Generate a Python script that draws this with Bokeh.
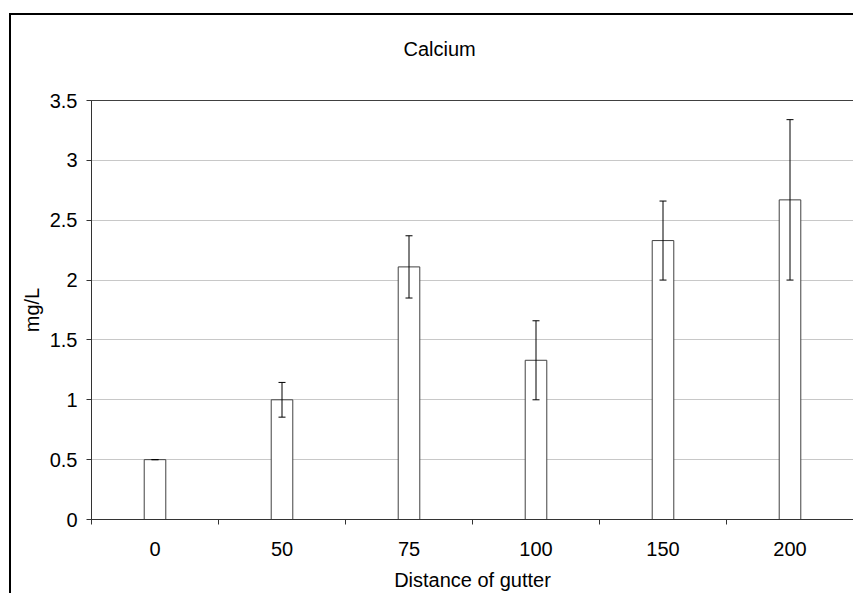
import numpy as np
from bokeh.plotting import figure
from bokeh.models import ColumnDataSource, Whisker, TeeHead, FixedTicker, NumeralTickFormatter, Title
from bokeh.embed import file_html
from bokeh.resources import INLINE

# ---- data ----
categories = ["0", "50", "75", "100", "150", "200"]
values = [0.5, 1.0, 2.11, 1.33, 2.33, 2.67]
errors = [0.0, 0.145, 0.26, 0.33, 0.33, 0.67]
y_ticks = [0, 0.5, 1, 1.5, 2, 2.5, 3, 3.5]
title_text = "Calcium"

FONT = "Liberation Sans"

centers = np.arange(len(categories)) + 0.5
src = ColumnDataSource(dict(
    x=centers,
    val=values,
    upper=np.array(values) + np.array(errors),
    lower=np.array(values) - np.array(errors),
))

p = figure(width=844, height=580, x_range=(0, len(categories)), y_range=(0, 3.5),
           output_backend="svg", toolbar_location=None,
           min_border_left=80, min_border_right=2, min_border_top=85, min_border_bottom=76)
p.title = None

p.styles = {"position": "relative", "left": "9px", "top": "13px",
            "border-left": "2px solid black", "border-top": "2px solid black"}

p.background_fill_color = "white"
p.border_fill_color = "white"
p.outline_line_color = "#404040"
p.outline_line_width = 1

# spacer between frame and title, then the title itself (further out)
p.add_layout(Title(text=" ", text_font=FONT, text_font_size="10px", standoff=8), "above")
p.add_layout(Title(text=title_text, text_font=FONT, text_font_size="20px",
                   text_font_style="normal", text_color="black",
                   align="left", offset=312, standoff=40), "above")

p.vbar(x="x", top="val", width=0.17, source=src, fill_color="white",
       line_color="#404040", line_width=1)

wh = Whisker(base="x", upper="upper", lower="lower", source=src,
             line_color="black", line_width=1, level="overlay",
             upper_head=TeeHead(size=7, line_color="black", line_width=1),
             lower_head=TeeHead(size=7, line_color="black", line_width=1))
p.add_layout(wh)

# grid
p.xgrid.visible = False
p.ygrid.grid_line_color = "#c8c8c8"
p.ygrid.grid_line_width = 1

# y axis
p.yaxis.ticker = FixedTicker(ticks=y_ticks)
p.yaxis.formatter = NumeralTickFormatter(format="0.[0]")
p.yaxis.axis_label = "mg/L"
p.yaxis.axis_line_color = "#333333"
p.yaxis.major_tick_line_color = "#333333"
p.yaxis.major_tick_out = 5
p.yaxis.major_tick_in = 0
p.yaxis.minor_tick_line_color = None
p.yaxis.major_label_standoff = 9
p.yaxis.axis_label_standoff = 4

# x axis
p.xaxis.ticker = FixedTicker(ticks=list(centers), minor_ticks=list(range(len(categories) + 1)))
p.xaxis.major_label_overrides = {float(c): lab for c, lab in zip(centers, categories)}
p.xaxis.axis_label = "Distance of gutter"
p.xaxis.axis_line_color = "#333333"
p.xaxis.major_tick_line_color = None
p.xaxis.minor_tick_line_color = "#333333"
p.xaxis.minor_tick_out = 5
p.xaxis.minor_tick_in = 0
p.xaxis.major_tick_out = 5
p.xaxis.major_label_standoff = 17
p.xaxis.axis_label_standoff = 10

for ax in (p.xaxis, p.yaxis):
    ax.major_label_text_font = FONT
    ax.major_label_text_font_size = "20px"
    ax.major_label_text_color = "black"
    ax.axis_label_text_font = FONT
    ax.axis_label_text_font_size = "20px"
    ax.axis_label_text_font_style = "normal"
    ax.axis_label_text_color = "black"

open("out.html", "w").write(file_html(p, INLINE))
